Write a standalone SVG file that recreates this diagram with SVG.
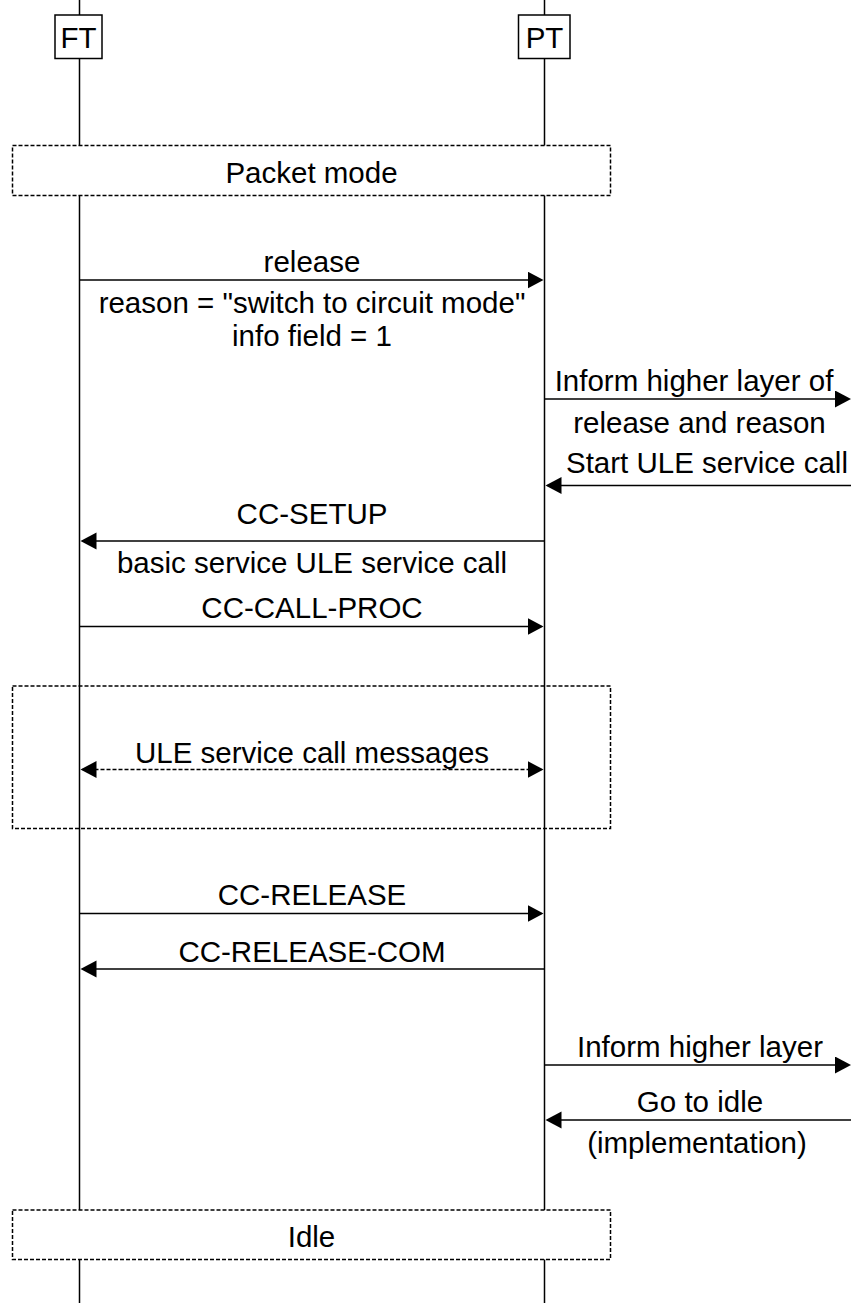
<svg xmlns="http://www.w3.org/2000/svg" width="851" height="1303" viewBox="0 0 851 1303">
<style>
text{font-family:"Liberation Sans",Arial,sans-serif;font-size:29.5px;fill:#000;text-anchor:middle}
.life{stroke:#000;stroke-width:1.5;fill:none}
.box{fill:#fff;stroke:#000;stroke-width:1.5}
.dbox{stroke:#000;stroke-width:1.5;stroke-dasharray:4 2}
.msg{stroke:#000;stroke-width:1.5;fill:none;marker-end:url(#ah)}
.dmsg{stroke:#000;stroke-width:1.5;fill:none;stroke-dasharray:4 2;marker-start:url(#ah2);marker-end:url(#ah2)}
</style>
<defs>
<marker id="ah" markerUnits="userSpaceOnUse" markerWidth="17" markerHeight="18" refX="14" refY="8.5" orient="auto" viewBox="0 0 17 18"><path d="M0,0 L16,8.5 L0,17 z" fill="#000"/></marker>
<marker id="ah2" markerUnits="userSpaceOnUse" markerWidth="17" markerHeight="18" refX="14" refY="8.5" orient="auto-start-reverse" viewBox="0 0 17 18"><path d="M0,0 L16,8.5 L0,17 z" fill="#000"/></marker>
</defs>
<rect width="851" height="1303" fill="#fff"/>
<g id="lifelines">
<line class="life" x1="79.5" y1="0" x2="79.5" y2="1303"/>
<line class="life" x1="544.5" y1="0" x2="544.5" y2="1303"/>
</g>
<g id="FT">
<rect class="box" x="55" y="15" width="47" height="43.5"/>
<text x="78.5" y="47.5">FT</text>
</g>
<g id="PT">
<rect class="box" x="518.5" y="15" width="51.5" height="43.5"/>
<text x="544.5" y="47.5">PT</text>
</g>
<g id="packet-mode">
<rect class="box dbox" x="12.5" y="145.5" width="598" height="50"/>
<text x="311.5" y="183">Packet mode</text>
</g>
<g id="ule-calls">
<rect class="dbox" fill="none" x="12.5" y="686" width="598" height="142.5"/>
</g>
<g id="idle">
<rect class="box dbox" x="12.5" y="1210" width="598" height="49.5"/>
<text x="311.5" y="1246.5">Idle</text>
</g>
<g id="connectors">
<line class="msg" x1="79.5" y1="280" x2="541.5" y2="280"/>
<text x="312" y="272">release</text>
<text x="312" y="312.5">reason = "switch to circuit mode"</text>
<text x="312" y="346">info field = 1</text>

<line class="msg" x1="544.5" y1="399" x2="849" y2="399"/>
<text x="694" y="390.5">Inform higher layer of</text>
<text x="699.5" y="433">release and reason</text>

<line class="msg" x1="851" y1="485.5" x2="547.5" y2="485.5"/>
<text x="707" y="473">Start ULE service call</text>

<line class="msg" x1="544.5" y1="541" x2="82.5" y2="541"/>
<text x="312" y="524">CC-SETUP</text>
<text x="312" y="572.5">basic service ULE service call</text>

<line class="msg" x1="79.5" y1="626.5" x2="541.5" y2="626.5"/>
<text x="312" y="618">CC-CALL-PROC</text>

<line class="dmsg" x1="82.5" y1="769.5" x2="541.5" y2="769.5"/>
<text x="312" y="762.5">ULE service call messages</text>

<line class="msg" x1="79.5" y1="913.5" x2="541.5" y2="913.5"/>
<text x="312" y="905">CC-RELEASE</text>

<line class="msg" x1="544.5" y1="969" x2="82.5" y2="969"/>
<text x="312" y="961.5">CC-RELEASE-COM</text>

<line class="msg" x1="544.5" y1="1065" x2="849" y2="1065"/>
<text x="700" y="1056.5">Inform higher layer</text>

<line class="msg" x1="851" y1="1120" x2="547.5" y2="1120"/>
<text x="700" y="1111.5">Go to idle</text>
<text x="697" y="1153">(implementation)</text>
</g>
</svg>
